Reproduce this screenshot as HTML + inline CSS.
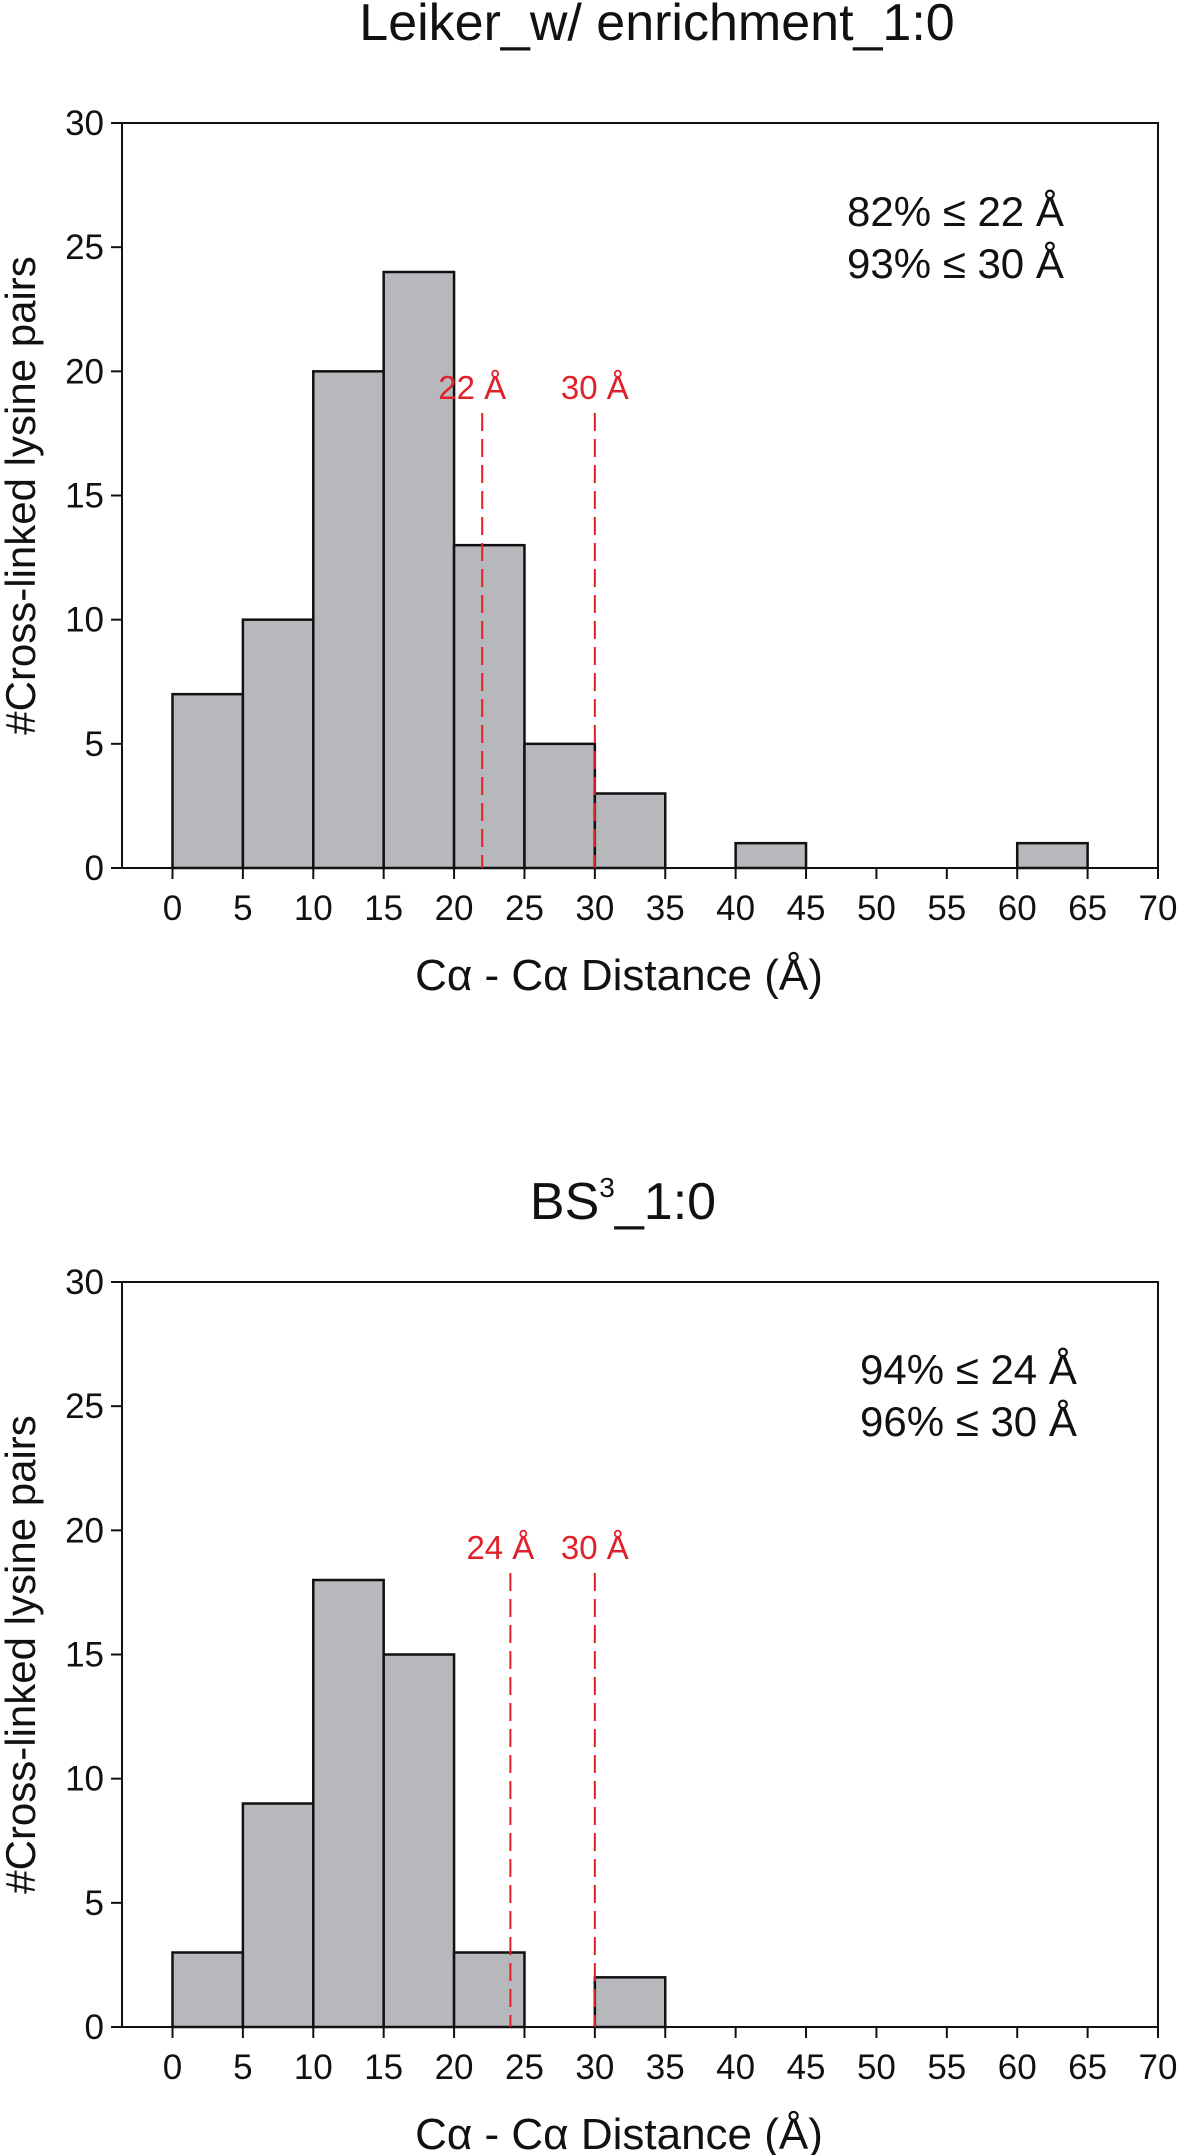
<!DOCTYPE html>
<html><head><meta charset="utf-8"><style>
html,body{margin:0;padding:0;background:#fff;}
svg{display:block;font-family:"Liberation Sans",Arial,sans-serif;}
</style></head><body>
<svg id="svg" width="1181" height="2155" viewBox="0 0 1181 2155"></svg>
<script>
const binStarts = [0,5,10,15,20,25,30,35,40,45,50,55,60,65];
const countsLeiker = [7,10,20,24,13,5,3,0,1,0,0,0,1,0];
const countsBS3 = [3,9,18,15,3,0,2,0,0,0,0,0,0,0];
const xTicks = [0,5,10,15,20,25,30,35,40,45,50,55,60,65,70];
const yTicks = [0,5,10,15,20,25,30];
const cutoffsLeiker = [22,30];
const cutoffsBS3 = [24,30];

const NS='http://www.w3.org/2000/svg';
const svg=document.getElementById('svg');
function mk(tag,attrs,parent,text){const e=document.createElementNS(NS,tag);for(const k in attrs)e.setAttribute(k,attrs[k]);if(text!==undefined)e.textContent=text;(parent||svg).appendChild(e);return e;}

function chart(cfg){
  const g=mk('g',{});
  
  
  const L=122,R=1158,T=cfg.top,B=cfg.bottom;
  const x=v=>172.5+v*(1158-172.5)/70;
  const y=v=>B-v*(B-T)/30;
  const t=mk('text',{x:cfg.titleX,y:cfg.titleY,'font-size':52,'text-anchor':'middle',fill:'#111'},g);
  
  
  if(cfg.sup){t.textContent=cfg.title1;mk('tspan',{'font-size':28,dy:-22},t,'3');mk('tspan',{dy:22},t,cfg.title2);}
  else{t.textContent=cfg.title;}
  cfg.counts.forEach((c,i)=>{
    if(c<=0)return;
    const b=mk('rect',{x:x(binStarts[i]),y:y(c),width:x(binStarts[i]+5)-x(binStarts[i]),height:y(0)-y(c),fill:'#b7b8bb',stroke:'#111','stroke-width':2.5},g);
    
    
  });
  const f=mk('rect',{x:L,y:T,width:R-L,height:B-T,fill:'none',stroke:'#111','stroke-width':2},g);
  
  
  yTicks.forEach(v=>{
    mk('line',{x1:111,x2:L,y1:y(v),y2:y(v),stroke:'#111','stroke-width':2},g);
    const tl=mk('text',{x:104,y:y(v)+12,'font-size':35,'text-anchor':'end',fill:'#111'},g,String(v));
    
    
  });
  xTicks.forEach(v=>{
    mk('line',{x1:x(v),x2:x(v),y1:B,y2:B+11,stroke:'#111','stroke-width':2},g);
    const tl=mk('text',{x:x(v),y:B+52,'font-size':35,'text-anchor':'middle',fill:'#111'},g,String(v));
    
    
  });
  cfg.cutoffs.forEach(c=>{
    const l=mk('line',{x1:x(c),x2:x(c),y1:cfg.dashTop,y2:B,stroke:'#e0202a','stroke-width':2,'stroke-dasharray':'18,8'},g);
    
    
    const tl=mk('text',{x:x(c)+(c===30?0:-10),y:cfg.dashTop-14,'font-size':33,'text-anchor':'middle',fill:'#e0202a'},g,c+' Å');
    
    
  });
  cfg.notes.forEach((n,i)=>{
    const a=mk('text',{x:cfg.noteX,y:cfg.noteY[i],'font-size':42,fill:'#111'},g,n);
    
    
  });
  const xl=mk('text',{x:619,y:cfg.xlabY,'font-size':44,'text-anchor':'middle',fill:'#111'},g,'Cα - Cα Distance (Å)');
  
  
  const yc=(T+B)/2;
  const yl=mk('text',{x:0,y:0,'font-size':42,'text-anchor':'middle',fill:'#111',transform:`translate(35,${yc}) rotate(-90)`},g,'#Cross-linked lysine pairs');
  
  
}
chart({name:'chart-leiker',title:'Leiker_w/ enrichment_1:0',titleX:657,titleY:40,top:123,bottom:868,counts:countsLeiker,cutoffs:cutoffsLeiker,dashTop:413,notes:['82% ≤ 22 Å','93% ≤ 30 Å'],noteX:847,noteY:[226,278],xlabY:990});
chart({name:'chart-bs3',sup:true,title1:'BS',title2:'_1:0',titleX:623,titleY:1219,top:1282,bottom:2027,counts:countsBS3,cutoffs:cutoffsBS3,dashTop:1573,notes:['94% ≤ 24 Å','96% ≤ 30 Å'],noteX:860,noteY:[1384,1436],xlabY:2149});
</script>
</body></html>
